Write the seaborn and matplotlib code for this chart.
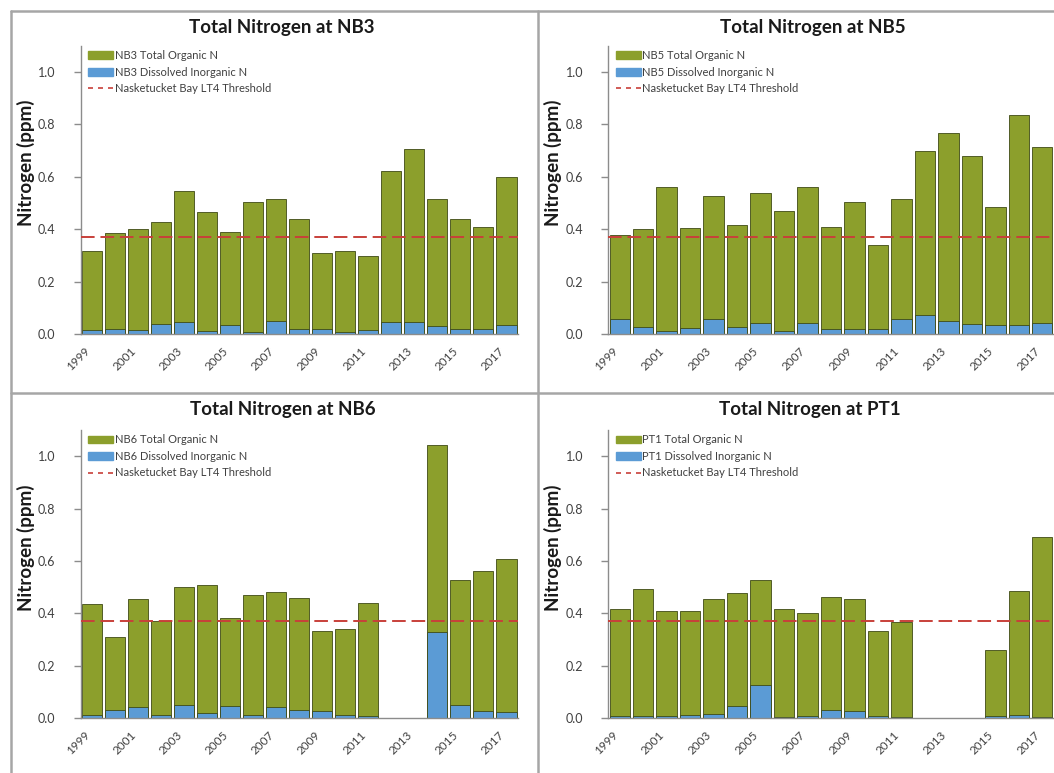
import numpy as np
import pandas as pd
import matplotlib
matplotlib.use("Agg")
import matplotlib.pyplot as plt
from matplotlib.patches import Patch
from matplotlib.lines import Line2D
import seaborn as sns

# ---------------- data ----------------
years = list(range(1999, 2018))
year_labels = [str(y) for y in years]
nan = np.nan

stations = ["NB3", "NB5", "NB6", "PT1"]

nb3_organic = [0.302, 0.365, 0.388, 0.388, 0.503, 0.456, 0.352, 0.497, 0.465, 0.421,
               0.289, 0.309, 0.281, 0.577, 0.664, 0.487, 0.420, 0.389, 0.566]
nb3_inorganic = [0.016, 0.020, 0.014, 0.040, 0.044, 0.010, 0.036, 0.006, 0.050, 0.019,
                 0.019, 0.009, 0.016, 0.047, 0.044, 0.029, 0.020, 0.020, 0.033]

nb5_organic = [0.321, 0.374, 0.548, 0.382, 0.470, 0.388, 0.497, 0.460, 0.518, 0.389,
               0.486, 0.320, 0.458, 0.624, 0.719, 0.642, 0.450, 0.799, 0.672]
nb5_inorganic = [0.057, 0.027, 0.013, 0.022, 0.057, 0.028, 0.042, 0.010, 0.043, 0.020,
                 0.019, 0.020, 0.057, 0.074, 0.048, 0.039, 0.036, 0.036, 0.042]

nb6_organic = [0.421, 0.279, 0.411, 0.356, 0.450, 0.489, 0.338, 0.458, 0.439, 0.429,
               0.307, 0.327, 0.433, nan, nan, 0.711, 0.476, 0.532, 0.586]
nb6_inorganic = [0.013, 0.029, 0.042, 0.013, 0.051, 0.019, 0.044, 0.013, 0.043, 0.029,
                 0.025, 0.013, 0.006, nan, nan, 0.330, 0.051, 0.028, 0.023]

pt1_organic = [0.410, 0.483, 0.401, 0.394, 0.439, 0.431, 0.400, 0.412, 0.392, 0.430,
               0.429, 0.322, 0.364, nan, nan, nan, 0.252, 0.472, 0.688]
pt1_inorganic = [0.006, 0.009, 0.006, 0.013, 0.015, 0.047, 0.127, 0.004, 0.009, 0.032,
                 0.025, 0.009, 0.004, nan, nan, nan, 0.006, 0.013, 0.004]

threshold = 0.37
y_ticks = [0.0, 0.2, 0.4, 0.6, 0.8, 1.0]

organic = {"NB3": nb3_organic, "NB5": nb5_organic, "NB6": nb6_organic, "PT1": pt1_organic}
inorganic = {"NB3": nb3_inorganic, "NB5": nb5_inorganic, "NB6": nb6_inorganic, "PT1": pt1_inorganic}

# ---------------- style ----------------
sns.set_style("white")
plt.rcParams["font.family"] = ["Lato", "DejaVu Sans"]

GREEN = "#8c9f2c"
BLUE = "#5b9bd5"
EDGE = "#3e4a14"
RED = "#c8403a"
AXIS_GRAY = "#8c8c8c"
TEXT_GRAY = "#404040"

W, H = 1054, 773
fig = plt.figure(figsize=(W / 100, H / 100), dpi=100)

# axes rectangles in pixel coordinates (left, top, right, bottom)
panel_px = {
    "NB3": (80.5, 45.8, 518.0, 334.0),
    "NB5": (608.0, 45.8, 1054.0, 334.0),
    "NB6": (80.5, 430.0, 518.0, 718.0),
    "PT1": (608.0, 430.0, 1054.0, 718.0),
}
title_px = {"NB3": (282, 28), "NB5": (813, 28), "NB6": (283, 410), "PT1": (810, 410)}
ylabel_px = {"NB3": (26, 163), "NB5": (553, 163), "NB6": (26, 548), "PT1": (553, 548)}

for st in stations:
    l, t, r, b = panel_px[st]
    ax = fig.add_axes([l / W, 1 - b / H, (r - l) / W, (b - t) / H])

    org = np.array(organic[st], dtype=float)
    din = np.array(inorganic[st], dtype=float)
    df = pd.DataFrame({"year": year_labels, "total": org + din, "din": din})

    sns.barplot(data=df, x="year", y="total", order=year_labels, color=GREEN,
                saturation=1, width=0.87, edgecolor=EDGE, linewidth=0.6, ax=ax)
    sns.barplot(data=df, x="year", y="din", order=year_labels, color=BLUE,
                saturation=1, width=0.87, edgecolor=EDGE, linewidth=0.6, ax=ax)
    ax.axhline(threshold, color=RED, linestyle=(0, (7, 3)), linewidth=1.4, zorder=5)

    ax.set_xlim(-0.5, len(years) - 0.5)
    ax.set_ylim(0, 1.1)
    ax.set_yticks(y_ticks)
    ax.set_yticklabels([f"{v:.1f}" for v in y_ticks], fontsize=9, color=TEXT_GRAY)
    ax.set_xticks(range(0, len(years), 2))
    ax.set_xticklabels(year_labels[::2], rotation=45, ha="right", va="top",
                       fontsize=8.5, color=TEXT_GRAY)
    ax.set_xticks(np.arange(-0.5, len(years), 1.0), minor=True)
    ax.tick_params(axis="x", which="major", length=0, pad=8)
    ax.tick_params(axis="x", which="minor", length=4, width=1, color="#404040",
                   direction="inout")
    ax.tick_params(axis="y", which="major", length=5, width=1, color=AXIS_GRAY,
                   direction="out", left=True, pad=13)
    ax.set_xlabel("")
    ax.set_ylabel("")
    for side in ["top", "right"]:
        ax.spines[side].set_visible(False)
    for side in ["left", "bottom"]:
        ax.spines[side].set_color(AXIS_GRAY)
        ax.spines[side].set_linewidth(1.0)

    handles = [
        Patch(facecolor=GREEN, edgecolor=GREEN, label=f"{st} Total Organic N"),
        Patch(facecolor=BLUE, edgecolor=BLUE, label=f"{st} Dissolved Inorganic N"),
        Line2D([0], [0], color=RED, linestyle=(0, (3, 3)), linewidth=1.2,
               label="Nasketucket Bay LT4 Threshold"),
    ]
    leg = ax.legend(handles=handles, loc="upper left",
                    bbox_to_anchor=(0.017, 0.985), frameon=False, fontsize=8,
                    borderaxespad=0, borderpad=0, handlelength=2.3,
                    handleheight=0.7, handletextpad=0.1, labelspacing=0.5)
    for txt in leg.get_texts():
        txt.set_color(TEXT_GRAY)

    tx, ty = title_px[st]
    fig.text(tx / W, 1 - ty / H, f"Total Nitrogen at {st}", ha="center", va="center",
             fontsize=13.5, fontweight="bold", color="#1a1a1a")
    lx, ly = ylabel_px[st]
    fig.text(lx / W, 1 - ly / H, "Nitrogen (ppm)", ha="center", va="center",
             rotation=90, fontsize=13.5, fontweight="bold", color="#1a1a1a")

# panel borders
BORDER = "#a6a6a6"
lw = 1.8
fig.add_artist(Line2D([11 / W, 11 / W], [0, 1 - 11 / H], color=BORDER, lw=lw,
                      transform=fig.transFigure))
fig.add_artist(Line2D([11 / W, 1], [1 - 11 / H, 1 - 11 / H], color=BORDER, lw=lw,
                      transform=fig.transFigure))
fig.add_artist(Line2D([538 / W, 538 / W], [0, 1 - 11 / H], color=BORDER, lw=lw,
                      transform=fig.transFigure))
fig.add_artist(Line2D([11 / W, 1], [1 - 393 / H, 1 - 393 / H], color=BORDER, lw=lw,
                      transform=fig.transFigure))

fig.savefig("out.png", dpi=100)
